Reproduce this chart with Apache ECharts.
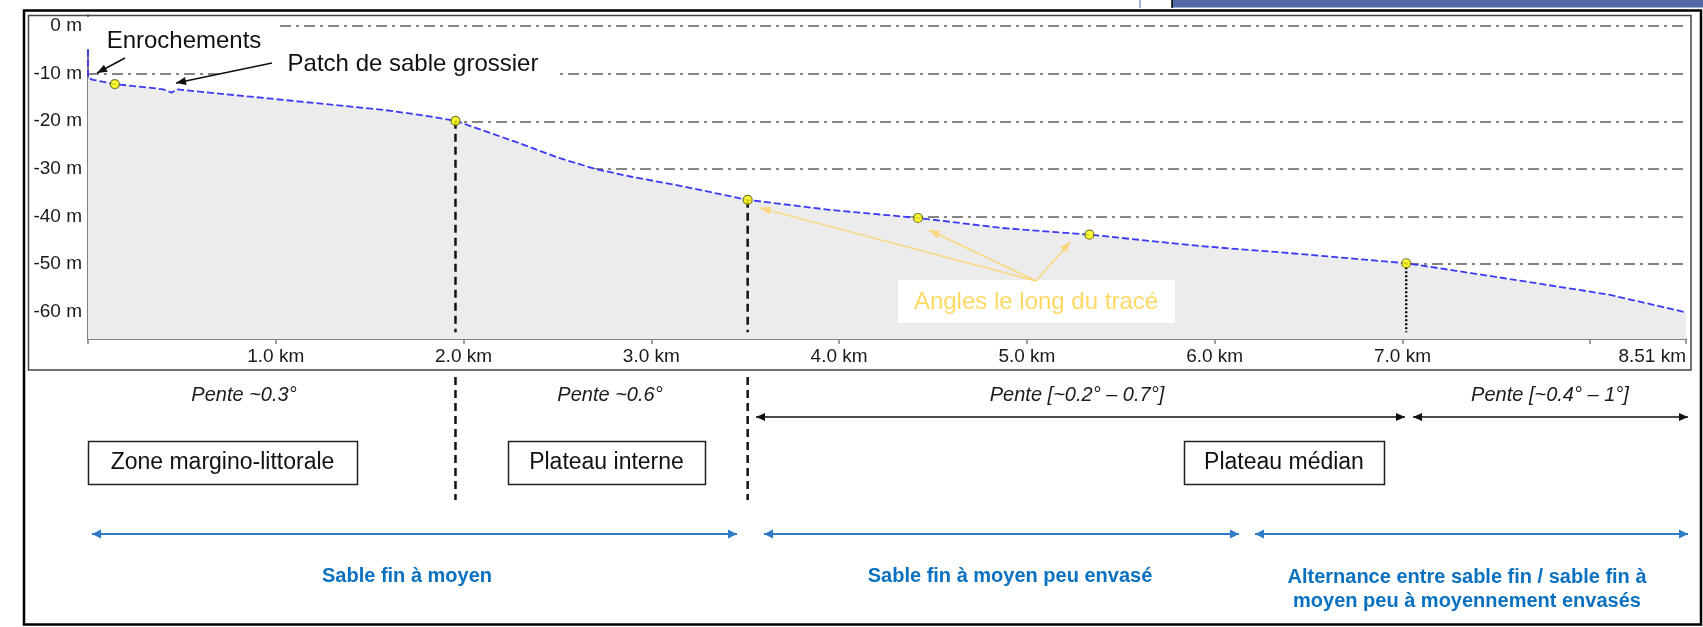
<!DOCTYPE html>
<html>
<head>
<meta charset="utf-8">
<script src="https://cdn.jsdelivr.net/npm/echarts@6/dist/echarts.min.js"></script>
<style>
html,body{margin:0;padding:0;background:#fff;}
#profil{width:1703px;height:627px;}
</style>
</head>
<body>
<div id="profil"></div>
<script>
// profil bathymétrique : distance le long du tracé (km) / profondeur (m)
const distances = [0, 0, 0.027, 0.143, 0.314, 0.40, 0.446, 0.47, 0.959, 1.364, 1.57, 1.774, 1.957, 2.283, 2.50, 2.70, 2.90, 3.135, 3.513, 3.951, 4.42, 4.868, 5.333, 5.924, 6.409, 7.02, 7.537, 8.101, 8.51];
const depths = [-5.0, -10.9, -11.3, -12.2, -12.9, -13.3, -14.0, -13.3, -15.2, -16.8, -17.6, -18.7, -19.9, -24.4, -27.6, -30.0, -31.7, -33.4, -36.5, -38.6, -40.3, -42.4, -43.8, -46.2, -47.7, -49.8, -52.9, -56.4, -60.1];

// angles le long du tracé
const angleKm = [0.143, 1.957, 3.513, 4.42, 5.333, 7.02];
const angleDepth = [-12.2, -19.9, -36.5, -40.3, -43.8, -49.8];

// limites de zones (tirets) et changement de pente (pointillés)
const limitKm = [1.957, 3.513, 7.02];
const limitTop = [-19.9, -36.5, -49.8];
const limitBottom = -64.3;

const pentes = ['Pente ~0.3°', 'Pente ~0.6°', 'Pente [~0.2° – 0.7°]', 'Pente [~0.4° – 1°]'];
const zones = ['Zone margino-littorale', 'Plateau interne', 'Plateau médian'];
const sediments = ['Sable fin à moyen', 'Sable fin à moyen peu envasé', 'Alternance entre sable fin / sable fin à', 'moyen peu à moyennement envasés'];

const FONT = "'Liberation Sans', Arial, sans-serif";
const chart = echarts.init(document.getElementById('profil'));

const profil = distances.map((d, i) => [d, depths[i]]);
const angles = angleKm.map((d, i) => [d, angleDepth[i]]);

const limitSeries = limitKm.map((d, i) => ({
    type: 'line',
    data: [[d, limitTop[i]], [d, limitBottom]],
    symbol: 'none',
    lineStyle: {color: '#111', width: 2.5, type: i < 2 ? [8, 5] : [2, 2]},
    z: 3
}));

chart.setOption({
    animation: false,
    grid: {left: 88, right: 17, top: 15, bottom: 288},
    xAxis: {
        type: 'value',
        min: 0,
        max: 8.51,
        interval: 1,
        axisLine: {onZero: false, lineStyle: {color: '#808080', width: 2}},
        axisTick: {show: true, length: 5, lineStyle: {color: '#808080', width: 1.5}},
        splitLine: {show: false},
        axisLabel: {
            color: '#1a1a1a',
            fontFamily: FONT,
            fontSize: 19,
            margin: 8,
            showMaxLabel: true,
            alignMaxLabel: 'right',
            formatter: function (v) {
                if (v === 0 || v === 8) return '';
                if (v === 8.51) return '8.51 km';
                return v.toFixed(1) + ' km';
            }
        }
    },
    yAxis: {
        type: 'value',
        min: -65.7,
        max: 2.3,
        axisLine: {show: true, onZero: false, lineStyle: {color: '#808080', width: 2}},
        axisTick: {show: false},
        splitLine: {
            show: true,
            showMinLine: false,
            showMaxLine: false,
            lineStyle: {color: '#858585', width: 2, type: [11, 5, 3, 5]}
        },
        axisLabel: {
            color: '#1a1a1a',
            fontFamily: FONT,
            fontSize: 19,
            margin: 6,
            formatter: function (v) {
                if (Math.abs(v % 10) > 1e-6) return '';
                return v + ' m';
            }
        }
    },
    series: [
        {
            type: 'line',
            data: profil,
            symbol: 'none',
            lineStyle: {color: '#3a3af7', width: 1.8, type: [7, 3]},
            areaStyle: {color: '#ececec', origin: 'start', opacity: 1},
            z: 2
        }
    ].concat(limitSeries, [
        {
            type: 'scatter',
            data: angles,
            symbolSize: 9,
            itemStyle: {color: '#ffff00', borderColor: '#5a5a10', borderWidth: 1.2},
            z: 6
        }
    ])
});

const px = km => chart.convertToPixel({xAxisIndex: 0}, km);
const pt = (km, m) => chart.convertToPixel({gridIndex: 0}, [km, m]);

function head(x, y, ang, len, wid, color, z) {
    const bx = x - len * Math.cos(ang), by = y - len * Math.sin(ang);
    const ox = -Math.sin(ang) * wid / 2, oy = Math.cos(ang) * wid / 2;
    return {type: 'polygon', z: z, shape: {points: [[x, y], [bx + ox, by + oy], [bx - ox, by - oy]]}, style: {fill: color}};
}
function arrow(x1, y1, x2, y2, color, lw, len, wid, both, z) {
    const ang = Math.atan2(y2 - y1, x2 - x1);
    const els = [{type: 'line', z: z, shape: {x1: x1, y1: y1, x2: x2, y2: y2}, style: {stroke: color, lineWidth: lw}}];
    els.push(head(x2, y2, ang, len, wid, color, z));
    if (both) els.push(head(x1, y1, ang + Math.PI, len, wid, color, z));
    return els;
}
function label(text, x, y, font, color, z) {
    return {type: 'text', z: z || 8, x: x, y: y,
        style: {text: text, font: font, fill: color, align: 'center', verticalAlign: 'middle', textAlign: 'center', textVerticalAlign: 'middle'}};
}

let g = [];
// cadres
g.push({type: 'rect', z: 20, shape: {x: 24, y: 10.5, width: 1677, height: 614}, style: {fill: null, stroke: '#000', lineWidth: 2.5}});
g.push({type: 'rect', z: 20, shape: {x: 28.5, y: 15.5, width: 1662.5, height: 354.5}, style: {fill: null, stroke: '#444', lineWidth: 1.5}});
g.push({type: 'rect', z: 20, shape: {x: 1172, y: 0, width: 531, height: 7.5}, style: {fill: '#5068a6'}});
g.push({type: 'line', z: 20, shape: {x1: 1172, y1: 0, x2: 1172, y2: 8}, style: {stroke: '#000', lineWidth: 1.5}});
g.push({type: 'line', z: 20, shape: {x1: 1140, y1: 0, x2: 1140, y2: 8}, style: {stroke: '#4a6aa8', lineWidth: 1}});

// annotations du graphe
g.push({type: 'rect', z: 4, shape: {x: 85, y: 17, width: 194, height: 32}, style: {fill: '#fff'}});
g.push(label('Enrochements', 184, 41, '24px ' + FONT, '#111'));
g = g.concat(arrow(125, 58, 97, 73, '#111', 1.5, 10, 8, false, 9));
g.push({type: 'rect', z: 4, shape: {x: 222, y: 46, width: 335, height: 40}, style: {fill: '#fff'}});
g.push(label('Patch de sable grossier', 413, 64, '24px ' + FONT, '#111'));
g = g.concat(arrow(272, 63, 176, 83, '#111', 1.5, 10, 8, false, 9));

g.push({type: 'rect', z: 4, shape: {x: 898, y: 280, width: 277, height: 43}, style: {fill: '#fff'}});
g.push(label('Angles le long du tracé', 1036, 302, '24px ' + FONT, '#ffd966'));
const src = [1036, 281];
const offs = [[12, 8], [11, 12], [-19, 7]];
[2, 3, 4].forEach((k, i) => {
    const p = pt(angleKm[k], angleDepth[k]);
    g = g.concat(arrow(src[0], src[1], p[0] + offs[i][0], p[1] + offs[i][1], '#f9d77e', 1.5, 11, 8, false, 9));
});

// prolongement des limites sous le graphe
[0, 1].forEach(i => {
    const x = px(limitKm[i]);
    g.push({type: 'line', z: 8, shape: {x1: x, y1: 377, x2: x, y2: 500}, style: {stroke: '#111', lineWidth: 2.5, lineDash: [8, 5]}});
});

// pentes
const penteX = [244, 610, 1077, 1550];
pentes.forEach((t, i) => g.push(label(t, penteX[i], 395, 'italic 20px ' + FONT, '#1a1a1a')));
g = g.concat(arrow(756, 417, 1405, 417, '#111', 1.5, 9, 8, true, 8));
g = g.concat(arrow(1413, 417, 1688, 417, '#111', 1.5, 9, 8, true, 8));

// zones
const zoneBox = [[88, 441, 269], [508, 441, 197], [1184, 441, 200]];
zones.forEach((t, i) => {
    const b = zoneBox[i];
    g.push({type: 'rect', z: 8, shape: {x: b[0] + 0.5, y: b[1] + 0.5, width: b[2], height: 43}, style: {fill: '#fff', stroke: '#222', lineWidth: 1.5}});
    g.push(label(t, b[0] + b[2] / 2, b[1] + 22, '23px ' + FONT, '#111', 9));
});

// sédiments
const blue = '#2e7bc6';
[[92, 737], [764, 1239], [1255, 1688]].forEach(s => {
    g = g.concat(arrow(s[0], 534, s[1], 534, blue, 2, 9, 9, true, 8));
});
g.push(label(sediments[0], 407, 576, 'bold 20px ' + FONT, '#0a70c0'));
g.push(label(sediments[1], 1010, 576, 'bold 20px ' + FONT, '#0a70c0'));
g.push(label(sediments[2], 1467, 577, 'bold 20px ' + FONT, '#0a70c0'));
g.push(label(sediments[3], 1467, 601, 'bold 20px ' + FONT, '#0a70c0'));

chart.setOption({graphic: {elements: g}});
</script>
</body>
</html>
